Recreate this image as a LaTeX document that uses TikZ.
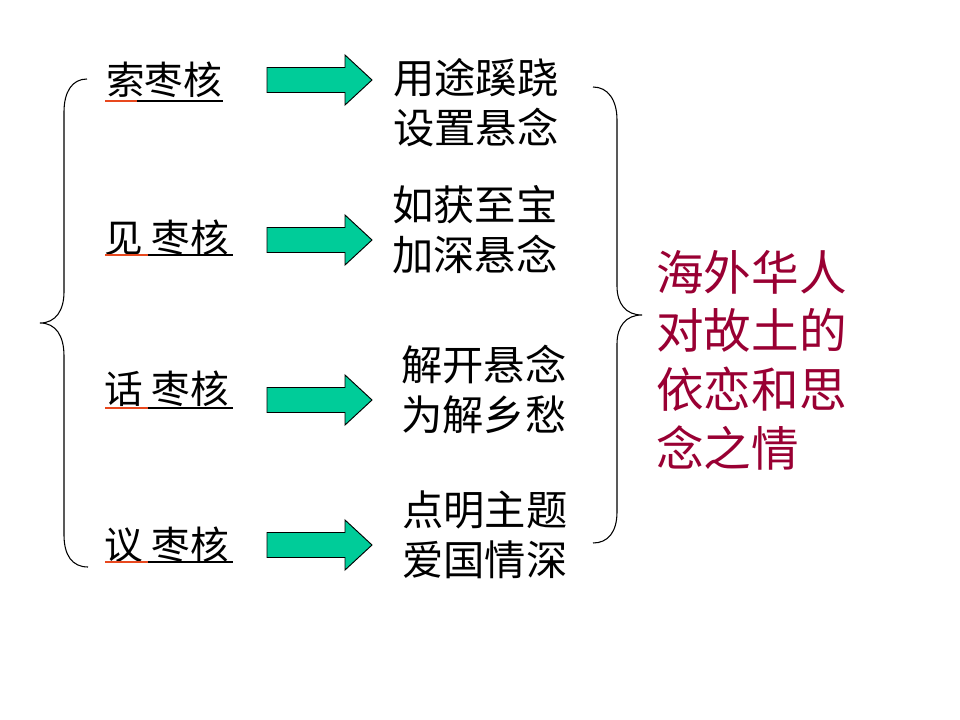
\documentclass[tikz,border=0pt]{standalone}
\usepackage{fontspec}
\setmainfont{Noto Sans CJK SC}
\definecolor{arrowgreen}{RGB}{0,204,153}
\definecolor{ulred}{RGB}{232,72,30}
\definecolor{maroontext}{RGB}{153,0,51}
\begin{document}
\begin{tikzpicture}[x=0.75pt,y=-0.75pt,
  lbl/.style={inner sep=0pt,anchor=west,font=\fontsize{29pt}{36pt}\selectfont},
  res/.style={inner sep=0pt,anchor=west,align=left,font=\fontsize{31pt}{37.5pt}\selectfont},
  summary/.style={inner sep=0pt,anchor=west,align=left,text=maroontext,font=\fontsize{35.7pt}{44pt}\selectfont},
  redul/.style={draw=ulred,line width=1.6pt},
  blackul/.style={draw=black,line width=1.6pt},
  bracestyle/.style={draw=black,line width=0.8pt},
  blockarrow/.style={fill=arrowgreen,draw=black,line width=0.7pt,line join=miter},
  barrow/.pic={\path[blockarrow] (267,-12.5) -- (345,-12.5) -- (345,-25) -- (372,0) -- (345,25) -- (345,12.5) -- (267,12.5) -- cycle;}
]
\useasboundingbox (0,0) rectangle (960,720);
\fill[white] (0,0) rectangle (960,720);

% left labels
\node[lbl] (l1) at (106,80) {索枣核};
\node[lbl] (l2) at (104,238) {见 枣核};
\node[lbl] (l3) at (104,389) {话 枣核};
\node[lbl] (l4) at (104,545) {议 枣核};

% underlines
\draw[redul] (105,101) -- (137,101);
\draw[blackul] (137,101) -- (223,101);
\draw[redul] (105,255) -- (148,255);
\draw[blackul] (148,255) -- (233,255);
\draw[redul] (105,408) -- (148,408);
\draw[blackul] (148,408) -- (233,408);
\draw[redul] (105,562) -- (148,562);
\draw[blackul] (148,562) -- (233,562);

% block arrows
\pic at (0,80) {barrow};
\pic at (0,240) {barrow};
\pic at (0,400) {barrow};
\pic at (0,545) {barrow};

% results
\node[res] (r1) at (393,103) {用途蹊跷\\设置悬念};
\node[res] (r2) at (392,230) {如获至宝\\加深悬念};
\node[res] (r3) at (401,390) {解开悬念\\为解乡愁};
\node[res] (r4) at (402,535) {点明主题\\爱国情深};

% summary
\node[summary] (s) at (656,360) {海外华人\\对故土的\\依恋和思\\念之情};

% braces
\draw[bracestyle] (87,79) .. controls (72,79) and (64,92) .. (64,112)
  -- (64,292) .. controls (64,310) and (56,323) .. (40,323)
  .. controls (56,323) and (64,336) .. (64,356)
  -- (64,535) .. controls (64,555) and (72,567) .. (88,567);
\draw[bracestyle] (593,87) .. controls (608,87) and (617,100) .. (617,120)
  -- (617,286) .. controls (617,304) and (626,315) .. (642,315)
  .. controls (626,315) and (617,326) .. (617,344)
  -- (617,512) .. controls (617,532) and (608,543) .. (593,543);
\end{tikzpicture}
\end{document}
